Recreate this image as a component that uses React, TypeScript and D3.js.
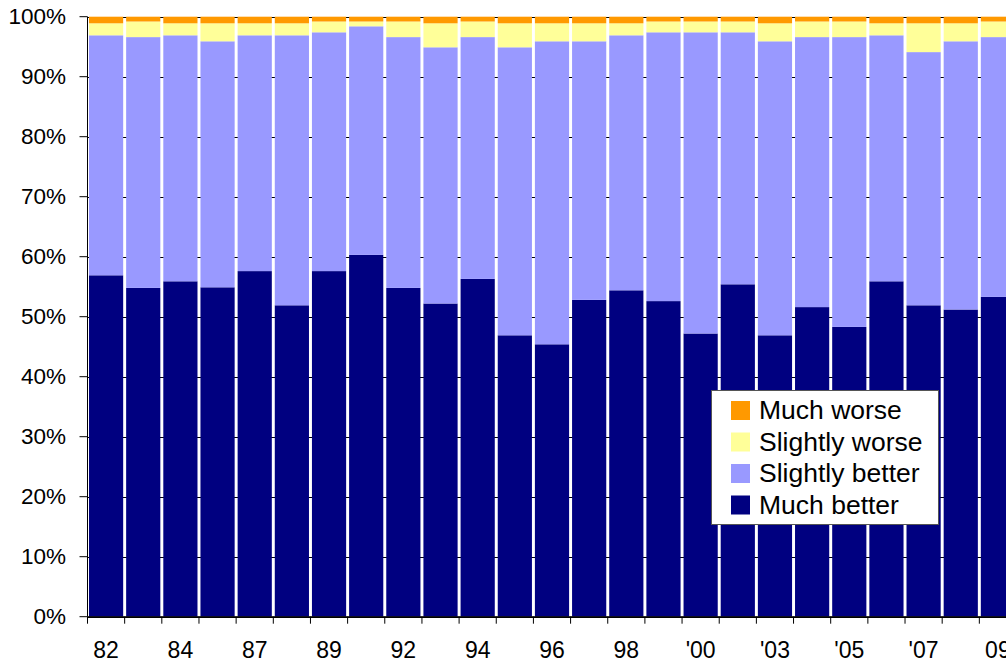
import React from "react";
import * as d3 from "d3";

const categories = ["82","83","84","86","87","88","89","91","92","93","94","95","96","97","98","99","'00","'02","'03","'04","'05","'06","'07","'08","09"];
const muchBetter = [56.9,54.8,55.9,54.9,57.6,51.9,57.6,60.3,54.8,52.2,56.3,46.9,45.4,52.8,54.4,52.6,47.2,55.4,46.9,51.6,48.3,55.9,51.9,51.2,53.3];
const slightlyBetter = [40.0,41.8,41.0,41.0,39.3,45.0,39.8,38.1,41.8,42.7,40.3,48.0,50.5,43.1,42.5,44.8,50.2,42.0,49.0,45.0,48.3,41.0,42.2,44.7,43.3];
const slightlyWorse = [2.0,2.6,2.0,3.0,2.0,2.0,1.8,0.8,2.6,4.0,2.6,4.0,3.0,3.0,2.0,1.8,1.8,1.8,3.0,2.6,2.6,2.0,4.8,3.0,2.6];
const muchWorse = [1.1,0.8,1.1,1.1,1.1,1.1,0.8,0.8,0.8,1.1,0.8,1.1,1.1,1.1,1.1,0.8,0.8,0.8,1.1,0.8,0.8,1.1,1.1,1.1,0.8];
const seriesNames = ["Much better","Slightly better","Slightly worse","Much worse"];
const seriesColors = ["#000080","#9999FF","#FFFF99","#FF9900"];
const yTicks = [0,10,20,30,40,50,60,70,80,90,100];

export default function App() {
  const W = 1006, H = 664;
  const left = 87.5, top = 16.7, bottom = 616.7;
  const step = 37.16;
  const x = d3.scaleBand<string>().domain(categories).range([left, left + step * categories.length]).paddingInner(0.08).paddingOuter(0.04);
  const y = d3.scaleLinear().domain([0, 100]).range([bottom, top]);
  const rows = categories.map((c, i) => ({ cat: c, "Much better": muchBetter[i], "Slightly better": slightlyBetter[i], "Slightly worse": slightlyWorse[i], "Much worse": muchWorse[i] }));
  const stack = d3.stack<any>().keys(seriesNames).offset(d3.stackOffsetExpand);
  const layers = stack(rows);
  const font = "'Liberation Sans', Arial, sans-serif";
  const legendItems = [3, 2, 1, 0];
  return (
    <svg width={W} height={H} style={{ position: "absolute", left: 0, top: 0, background: "#fff" }}>
      {yTicks.map(t => (
        <line key={"g" + t} x1={left} x2={W} y1={Math.round(y(t)) + 0.5} y2={Math.round(y(t)) + 0.5} stroke="#000" strokeWidth={1} />
      ))}
      {layers.map((layer, li) => (
        <g key={li} fill={seriesColors[li]}>
          {layer.map((d, i) => (
            <rect key={i} x={x(categories[i])} width={x.bandwidth()} y={y(d[1] * 100)} height={y(d[0] * 100) - y(d[1] * 100)} />
          ))}
        </g>
      ))}
      <line x1={left} x2={left} y1={top} y2={bottom} stroke="#000" />
      <line x1={left} x2={W} y1={bottom} y2={bottom} stroke="#000" />
      {yTicks.map(t => (
        <g key={"t" + t}>
          <line x1={left - 8} x2={left} y1={y(t)} y2={y(t)} stroke="#000" />
          <text x={66} y={y(t) + 7.5} textAnchor="end" fontFamily={font} fontSize={22.5}>{t + "%"}</text>
        </g>
      ))}
      {categories.map((c, i) => {
        const x0 = left + i * step;
        return <line key={"xt" + i} x1={x0} x2={x0} y1={bottom} y2={bottom + 7} stroke="#000" />;
      })}
      {categories.map((c, i) => i % 2 === 0 ? (
        <text key={"xl" + i} x={(x(c) as number) + x.bandwidth() / 2} y={658} textAnchor="middle" fontFamily={font} fontSize={23}>{c}</text>
      ) : null)}
      <g>
        <rect x={711.5} y={390.5} width={227} height={134} fill="#fff" stroke="#555" />
        {legendItems.map((si, k) => (
          <g key={si}>
            <rect x={731} y={401 + k * 31.5} width={19} height={19} fill={seriesColors[si]} />
            <text x={759} y={419 + k * 31.5} fontFamily={font} fontSize={26.5}>{seriesNames[si]}</text>
          </g>
        ))}
      </g>
    </svg>
  );
}
